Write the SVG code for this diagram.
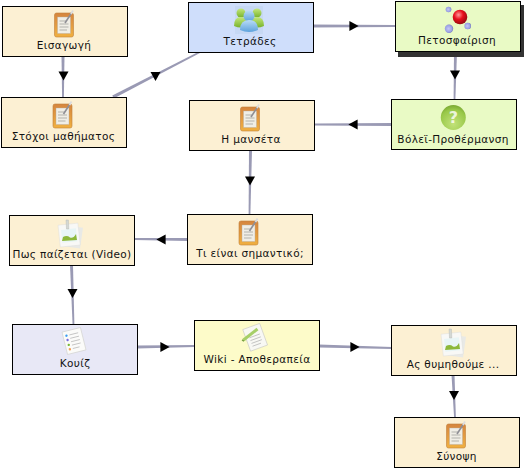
<svg xmlns="http://www.w3.org/2000/svg" xmlns:xlink="http://www.w3.org/1999/xlink" width="525" height="472" viewBox="0 0 525 472">
<style>
.box{stroke:#000;stroke-width:1}
.res{fill:#fcf0d3}.grp{fill:#cfdefb}.act{fill:#e9fac5}.quiz{fill:#e8e8f6}.wiki{fill:#fdfbc9}
.lbl{font-family:"DejaVu Sans",Verdana,sans-serif;font-size:10.5px;letter-spacing:.35px;fill:#111;text-anchor:middle}
.line{fill:#9a9ab4}
</style>
<defs>
<linearGradient id="gO" x1="0" y1="0" x2="0" y2="1"><stop offset="0" stop-color="#d5853f"/><stop offset="1" stop-color="#f0b040"/></linearGradient>
<radialGradient id="gR" cx=".4" cy=".35" r=".7"><stop offset="0" stop-color="#ff9a9a"/><stop offset=".45" stop-color="#e8101c"/><stop offset="1" stop-color="#8c0a10"/></radialGradient>
<radialGradient id="gB" cx=".45" cy=".5" r=".6"><stop offset="0" stop-color="#c6c8f4"/><stop offset=".7" stop-color="#9a9fe4"/><stop offset="1" stop-color="#5c62a8"/></radialGradient>
<radialGradient id="gQ" cx=".5" cy=".75" r=".75"><stop offset="0" stop-color="#c2e27a"/><stop offset=".75" stop-color="#98c848"/><stop offset="1" stop-color="#7aa832"/></radialGradient>
<linearGradient id="gG" x1="0" y1="0" x2="0" y2="1"><stop offset="0" stop-color="#c4e87c"/><stop offset="1" stop-color="#78b32c"/></linearGradient>
<linearGradient id="gU" x1="0" y1="0" x2="0" y2="1"><stop offset="0" stop-color="#b9dcf6"/><stop offset="1" stop-color="#5ea2dc"/></linearGradient>
<path id="ah" d="M-5,-4.6 L5,-4.6 L0,4.6Z" fill="#000"/>
<g id="iNote">
<rect x="-9.5" y="-11" width="19" height="24" rx="2" fill="url(#gO)" stroke="#c07f3a" stroke-width=".6"/>
<rect x="-6.5" y="-7" width="13" height="16.5" fill="#f0eee6" stroke="#b4ac9c" stroke-width=".4"/>
<path d="M-4.5,-3H2M-4.5,0H4.5M-4.5,3H4.5M-4.5,6H3" stroke="#9a9a94" stroke-width=".7" fill="none"/>
<path d="M1,-1 L7.5,-11" stroke="#8f8f96" stroke-width="1.6"/>
<path d="M7,-10 L9,-13.5" stroke="#dcdcde" stroke-width="1.8"/>
</g>
<g id="iImg">
<rect x="-8" y="-8" width="20" height="21" fill="#e8e9e6" transform="rotate(8)"/>
<rect x="-11" y="-10" width="20" height="22" fill="#f8f8f6" stroke="#dcdcd8" stroke-width=".4" transform="rotate(-6)"/>
<rect x="-8.5" y="-5" width="15" height="13" fill="#e8f5f6" transform="rotate(-6)"/>
<path d="M-8,7 L-7,3 Q-3,1 0,3.5 Q3,5 6,0 L7,6Z" fill="#8db83a"/>
<path d="M-4,-14 L-3.5,-5 L-1.2,-5 L-1.6,-14Z" fill="#d4d8d4" stroke="#b0b4b0" stroke-width=".4"/>
</g>
<g id="iQuiz">
<g transform="rotate(-14)">
<rect x="-9.5" y="-11.5" width="19" height="23" fill="#fbfbf9" stroke="#cfcfcb" stroke-width=".6"/>
<path d="M-3,-7H6M-3,-3.5H6M-3,0H6M-3,3.5H6M-3,7H4" stroke="#b4b4b4" stroke-width=".7" fill="none"/>
<circle cx="-6" cy="-7" r="1.2" fill="#3b9cf0"/><circle cx="-6" cy="-2.5" r="1.2" fill="#7a6ce0"/><circle cx="-6" cy="2.5" r="1.2" fill="#7ab83a"/><circle cx="-6" cy="7" r="1.2" fill="#f2a058"/>
</g>
</g>
<g id="iWiki">
<g transform="rotate(-20)">
<rect x="-8.5" y="-11" width="18" height="23" fill="#f8f8f4" stroke="#c8c8c4" stroke-width=".6"/>
<path d="M-5,-1H6M-5,2H6M-5,5H6M-5,8H4" stroke="#b4b4b4" stroke-width=".7" fill="none"/>
</g>
<path d="M-11,3 L3,-8" stroke="#a6cf68" stroke-width="3"/>
<path d="M-11,3 L-12,4" stroke="#6f9a38" stroke-width="2.4"/>
</g>
</defs>

<g id="connectors">
<path class="line" d="M61.5,56H64.5L63.9,97H62.1Z"/>
<path class="line" d="M112.3,95.6L113.7,98.4L200.4,52.8L199.6,51.2Z"/>
<path class="line" d="M313,24.5L395,25.1V26.9L313,27.5Z"/>
<path class="line" d="M454,52H457L455.4,99H453.6Z"/>
<path class="line" d="M392,123V126L314,125.4V123.6Z"/>
<path class="line" d="M249,150L252,150L250.4,214H248.6Z"/>
<path class="line" d="M188,238V241L134,239.9V238.1Z"/>
<path class="line" d="M70,265L73,265L74.4,325H72.6Z"/>
<path class="line" d="M137,345.5V348.5L195,346.9V345.1Z"/>
<path class="line" d="M319,344.5V347.5L392,348.9V347.1Z"/>
<path class="line" d="M451.5,375H454.5L455.9,418H454.1Z"/>
<use xlink:href="#ah" href="#ah" transform="translate(63.5,76)"/>
<use xlink:href="#ah" href="#ah" transform="translate(155.5,76.5)"/>
<use xlink:href="#ah" href="#ah" transform="translate(354,26) rotate(-90)"/>
<use xlink:href="#ah" href="#ah" transform="translate(455,75)"/>
<use xlink:href="#ah" href="#ah" transform="translate(353,124.5) rotate(90)"/>
<use xlink:href="#ah" href="#ah" transform="translate(250,181)"/>
<use xlink:href="#ah" href="#ah" transform="translate(161,239.5) rotate(90)"/>
<use xlink:href="#ah" href="#ah" transform="translate(72.5,293.5)"/>
<use xlink:href="#ah" href="#ah" transform="translate(165,347) rotate(-90)"/>
<use xlink:href="#ah" href="#ah" transform="translate(355,347) rotate(-90)"/>
<use xlink:href="#ah" href="#ah" transform="translate(454,395.5)"/>
</g>

<g id="node-eisagogi">
<rect class="box res" x="2.5" y="6.5" width="125" height="50"/>
<use xlink:href="#iNote" href="#iNote" x="64" y="24"/>
<text class="lbl" x="64" y="49">Εισαγωγή</text>
</g>
<g id="node-stochoi">
<rect class="box res" x="1.5" y="97.5" width="125" height="50"/>
<use xlink:href="#iNote" href="#iNote" x="62.5" y="115"/>
<text class="lbl" x="63.5" y="140">Στόχοι μαθήματος</text>
</g>
<g id="node-tetrades">
<rect class="box grp" x="188.5" y="2.5" width="125" height="50"/>
<rect x="235" y="6" width="28" height="28" fill="#c6d8f4"/>
<circle cx="241" cy="13" r="4.5" fill="url(#gG)"/><path d="M234,26 Q234,17 241,17 Q248,17 248,26 Q241,29 234,26Z" fill="url(#gG)"/>
<circle cx="257" cy="13" r="4.5" fill="url(#gG)"/><path d="M250,26 Q250,17 257,17 Q264,17 264,26 Q257,29 250,26Z" fill="url(#gG)"/>
<circle cx="249" cy="16" r="5.5" fill="url(#gU)"/><path d="M240,30 Q240,20 249,20 Q258,20 258,30 Q249,34 240,30Z" fill="url(#gU)"/>
<text class="lbl" x="250" y="45">Τετράδες</text>
</g>
<g id="node-petosfairisi">
<rect x="398.5" y="5.5" width="125" height="51" fill="#333" stroke="#333"/>
<rect class="box act" x="395.5" y="1.5" width="125" height="50"/>
<circle cx="448.5" cy="9.5" r="2.8" fill="url(#gB)"/>
<circle cx="449" cy="28.7" r="4.2" fill="url(#gB)"/>
<circle cx="467.7" cy="26" r="3.3" fill="url(#gB)"/>
<circle cx="460" cy="17" r="7.3" fill="url(#gR)"/>
<text class="lbl" x="457" y="44">Πετοσφαίριση</text>
</g>
<g id="node-volei">
<rect class="box act" x="391.5" y="99.5" width="125" height="50"/>
<circle cx="453.3" cy="117.5" r="12.5" fill="url(#gQ)"/>
<text x="453.3" y="123" font-family="'DejaVu Sans',sans-serif" font-size="16" font-weight="bold" fill="#fff" fill-opacity=".8" text-anchor="middle">?</text>
<text class="lbl" x="453" y="143">Βόλεϊ-Προθέρμανση</text>
</g>
<g id="node-manseta">
<rect class="box res" x="189.5" y="100.5" width="125" height="50"/>
<use xlink:href="#iNote" href="#iNote" x="250" y="118"/>
<text class="lbl" x="251" y="143">Η μανσέτα</text>
</g>
<g id="node-simantiko">
<rect class="box res" x="187.5" y="214.5" width="125" height="50"/>
<use xlink:href="#iNote" href="#iNote" x="248.5" y="232"/>
<text class="lbl" x="250" y="257">Τι είναι σημαντικό;</text>
</g>
<g id="node-video">
<rect class="box res" x="9.5" y="215.5" width="125" height="50"/>
<use xlink:href="#iImg" href="#iImg" x="70" y="234"/>
<text class="lbl" x="72" y="258">Πως παίζεται (Video)</text>
</g>
<g id="node-kouiz">
<rect class="box quiz" x="12.5" y="324.5" width="125" height="50"/>
<use xlink:href="#iQuiz" href="#iQuiz" x="74" y="341"/>
<text class="lbl" x="75" y="367">Κουίζ</text>
</g>
<g id="node-wiki">
<rect class="box wiki" x="194.5" y="320.5" width="125" height="50"/>
<use xlink:href="#iWiki" href="#iWiki" x="254.5" y="337"/>
<text class="lbl" x="257" y="363">Wiki - Αποθεραπεία</text>
</g>
<g id="node-thymithoume">
<rect class="box res" x="391.5" y="325.5" width="125" height="50"/>
<use xlink:href="#iImg" href="#iImg" x="453" y="343"/>
<text class="lbl" x="453" y="368">Ας θυμηθούμε ...</text>
</g>
<g id="node-synopsi">
<rect class="box res" x="394.5" y="417.5" width="125" height="50"/>
<use xlink:href="#iNote" href="#iNote" x="456" y="435"/>
<text class="lbl" x="456.5" y="460">Σύνοψη</text>
</g>
</svg>
